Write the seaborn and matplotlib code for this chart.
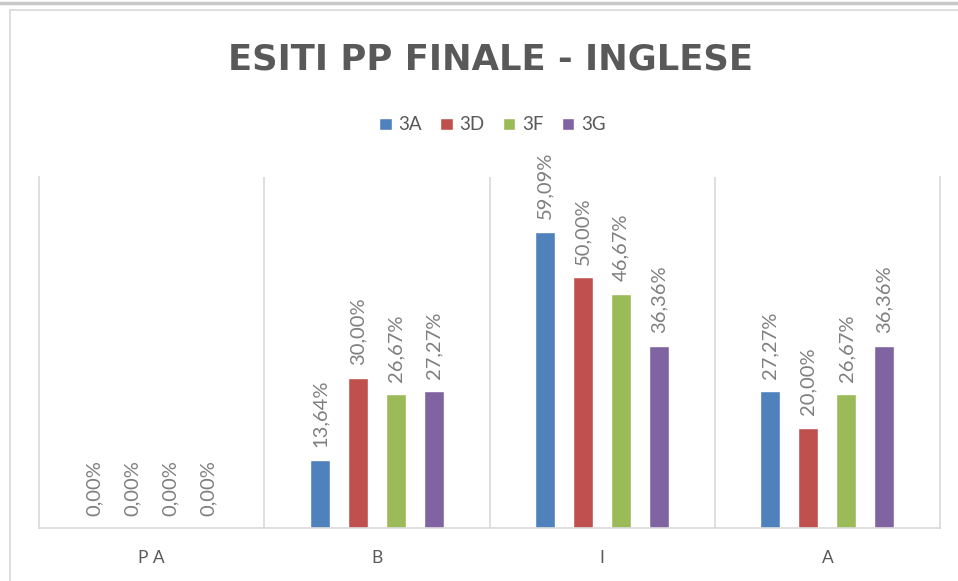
import pandas as pd
import matplotlib.pyplot as plt
import seaborn as sns

# dati
categorie = ["P A", "B", "I", "A"]
classi = ["3A", "3D", "3F", "3G"]
val_3A = [0.00, 13.64, 59.09, 27.27]
val_3D = [0.00, 30.00, 50.00, 20.00]
val_3F = [0.00, 26.67, 46.67, 26.67]
val_3G = [0.00, 27.27, 36.36, 36.36]
colori = ["#4F81BD", "#C0504D", "#9BBB59", "#8064A2"]

righe = []
for classe, valori in zip(classi, [val_3A, val_3D, val_3F, val_3G]):
    for cat, v in zip(categorie, valori):
        righe.append({"Esito": cat, "Classe": classe, "Valore": v})
df = pd.DataFrame(righe)

sns.set_style("white")
plt.rcParams['font.family'] = ['Lato', 'DejaVu Sans']

grigio = "#595959"
linea = "#D9D9D9"

fig = plt.figure(figsize=(9.58, 5.81), dpi=100)
ax = fig.add_axes([39/958, 1-528/581, (940-39)/958, (528-177)/581])

sns.barplot(data=df, x="Esito", y="Valore", hue="Classe", order=categorie,
            hue_order=classi, palette=colori, width=0.675, gap=0.47,
            saturation=1, ax=ax, legend=True)

for cont, valori in zip(ax.containers, [val_3A, val_3D, val_3F, val_3G]):
    etichette = [f"{v:.2f}%".replace(".", ",") for v in valori]
    ax.bar_label(cont, labels=etichette, rotation=90, padding=9,
                 fontsize=14.5, color="#7F7F7F")

ax.set_xlim(-0.5, 3.5)
ax.set_ylim(0, 70)
ax.set_yticks([])
ax.set_xlabel("")
ax.set_ylabel("")
ax.set_xticks([0.5, 1.5, 2.5], minor=True)
ax.grid(which="minor", axis="x", color=linea, linewidth=1.2)
ax.tick_params(axis="x", which="both", length=0, pad=16, labelsize=12.5,
               labelcolor=grigio)
for lato in ["left", "right", "bottom"]:
    ax.spines[lato].set_color(linea)
    ax.spines[lato].set_linewidth(1.2)
ax.spines["top"].set_visible(False)

leg = ax.legend(loc="center", bbox_to_anchor=(0.514, 1-125/581),
                bbox_transform=fig.transFigure, ncol=4, frameon=False,
                handlelength=0.65, handleheight=0.65, handletextpad=0.35,
                columnspacing=1.0, fontsize=13.5)
for t in leg.get_texts():
    t.set_color(grigio)

fig.text(0.5115, 1-59/581, "ESITI PP FINALE - INGLESE", ha="center",
         va="center", fontsize=25.5, fontweight="bold", color=grigio,
         family=["DejaVu Sans"])

# cornice del grafico
fig.add_artist(plt.Line2D([0, 1], [1-3/581, 1-3/581], color="#C8C8C8",
                          linewidth=2.5))
fig.add_artist(plt.Line2D([10/958, 10/958], [0, 1-10/581], color=linea,
                          linewidth=1.2))
fig.add_artist(plt.Line2D([10/958, 1], [1-10/581, 1-10/581], color=linea,
                          linewidth=1.2))

plt.savefig("out.png", dpi=100)
